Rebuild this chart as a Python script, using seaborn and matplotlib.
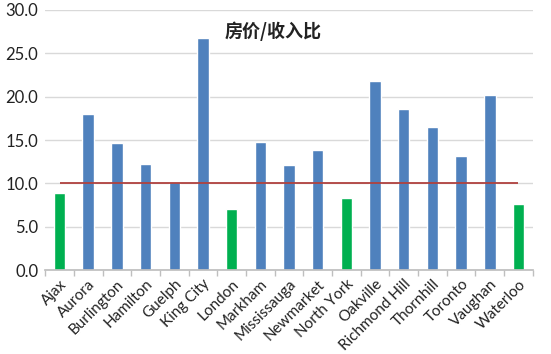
import matplotlib
matplotlib.use("Agg")
import matplotlib.pyplot as plt
import seaborn as sns
import pandas as pd
import numpy as np

cities = ["Ajax", "Aurora", "Burlington", "Hamilton", "Guelph", "King City", "London",
          "Markham", "Mississauga", "Newmarket", "North York", "Oakville", "Richmond Hill",
          "Thornhill", "Toronto", "Vaughan", "Waterloo"]
ratios = [8.9, 18.0, 14.7, 12.2, 10.2, 26.8, 7.1, 14.8, 12.1, 13.9, 8.3, 21.8, 18.6,
          16.5, 13.2, 20.2, 7.6]
threshold = 10.0
yticks = [0, 5, 10, 15, 20, 25, 30]
title = "房价/收入比"

sns.set_theme(style="white")
plt.rcParams['font.family'] = ['Lato', 'Noto Sans CJK SC', 'DejaVu Sans']

df = pd.DataFrame({"city": cities, "ratio": ratios})
df["group"] = np.where(df["ratio"] < threshold, "low", "high")

fig = plt.figure(figsize=(5.51, 3.54), dpi=100)
ax = fig.add_axes([0.082, 0.237, 0.885, 0.735])

sns.barplot(data=df, x="city", y="ratio", hue="group",
            palette={"high": "#4F81BD", "low": "#00B050"},
            dodge=False, width=0.4, legend=False, ax=ax, saturation=1)

ax.hlines(threshold, 0, len(cities) - 1, color="#B0413E", lw=1.3, zorder=3)

ax.set_ylim(0, 30)
ax.set_xlim(-0.5, len(cities) - 0.5)
ax.set_yticks(yticks)
ax.set_yticklabels([f"{v:.1f}" for v in yticks], fontsize=12, color="#222222")
ax.yaxis.grid(True, color="#D9D9D9", lw=1)
ax.set_axisbelow(True)
ax.set_xlabel("")
ax.set_ylabel("")
for s in ["top", "right", "left"]:
    ax.spines[s].set_visible(False)
ax.spines["bottom"].set_color("#BFBFBF")

ax.set_xticks(range(len(cities)))
ax.set_xticklabels(cities, rotation=45, ha="right", rotation_mode="anchor", fontsize=11,
                   color="#222222")
ax.set_xticks(np.arange(-0.5, len(cities)), minor=True)
ax.tick_params(axis="x", which="major", length=0, pad=5)
ax.tick_params(axis="x", which="minor", length=4, color="#BFBFBF", bottom=True)
ax.tick_params(axis="y", length=0, pad=5)

fig.text(0.495, 0.912, title, ha="center", va="center", fontsize=13, fontweight="bold",
         family=['Noto Sans CJK SC', 'DejaVu Sans'], color="#222222")

fig.savefig("out.png", dpi=100)
